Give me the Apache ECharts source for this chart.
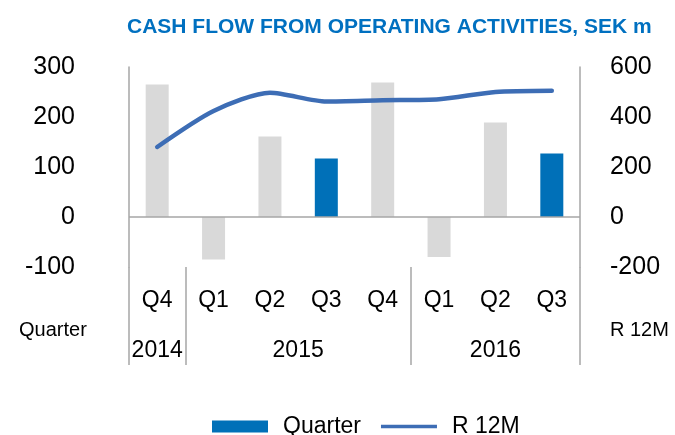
<!DOCTYPE html>
<html>
<head>
<meta charset="utf-8">
<script src="https://cdn.jsdelivr.net/npm/echarts@6/dist/echarts.min.js"></script>
<style>
  html, body { margin: 0; padding: 0; background: #fff; }
  #chart { width: 675px; height: 435px; }
</style>
</head>
<body>
<div id="chart"></div>
<script>
var quarters = ['Q4', 'Q1', 'Q2', 'Q3', 'Q4', 'Q1', 'Q2', 'Q3'];
var years = ['2014', '2015', '2016'];
var yearSpans = [1, 4, 3];
var quarterValues = [265, -85, 161, 117, 269, -80, 189, 127];
var r12mValues = [280, 424, 497, 462, 467, 471, 500, 505];
var leftTicks = [-100, 0, 100, 200, 300];
var rightTicks = [-200, 0, 200, 400, 600];

var font = 'Liberation Sans, Arial, sans-serif';
var gray = '#d9d9d9';
var blue = '#0070b8';
var axisGray = '#a6a6a6';

// year group boundaries and centres, in category units
var yearBounds = [0];
var yearCenters = [];
var pos = 0;
for (var i = 0; i < yearSpans.length; i++) {
    yearCenters.push(pos + yearSpans[i] / 2);
    pos += yearSpans[i];
    yearBounds.push(pos);
}

var barData = [];
for (var i = 0; i < quarterValues.length; i++) {
    barData.push({
        value: quarterValues[i],
        itemStyle: { color: quarters[i] == 'Q3' ? blue : gray }
    });
}

var chart = echarts.init(document.getElementById('chart'));

var option = {
    animation: false,
    textStyle: { fontFamily: font },
    title: {
        text: 'CASH FLOW FROM OPERATING ACTIVITIES, SEK m',
        left: 122,
        top: 12,
        textStyle: { color: '#0070c0', fontSize: 21, fontWeight: 'bold', fontFamily: font }
    },
    grid: { left: 129, right: 95, top: 67, bottom: 168, containLabel: false },
    legend: {
        left: 207,
        top: 410,
        itemWidth: 56,
        itemHeight: 12,
        itemGap: 20,
        textStyle: { fontSize: 23, color: '#000', fontFamily: font, padding: [0, 0, 0, 10] },
        data: [
            { name: 'Quarter', icon: 'rect' },
            { name: 'R 12M', icon: 'path://M0,0h60v4h-60z' }
        ]
    },
    xAxis: [
        {
            type: 'category',
            data: quarters,
            position: 'bottom',
            axisLine: { show: false, onZero: false },
            axisTick: { show: false },
            axisLabel: { margin: 22, fontSize: 23, color: '#000', fontFamily: font, interval: 0 }
        },
        {
            type: 'value',
            min: 0,
            max: quarters.length,
            position: 'bottom',
            splitLine: { show: false },
            axisLine: { show: false, onZero: false },
            axisTick: {
                show: true,
                customValues: yearBounds,
                length: 98,
                lineStyle: { color: axisGray, width: 1.5 }
            },
            axisLabel: {
                customValues: yearCenters,
                margin: 72,
                fontSize: 23,
                color: '#000',
                fontFamily: font,
                formatter: function (v) {
                    var k = yearCenters.indexOf(v);
                    return k >= 0 ? years[k] : '';
                }
            }
        }
    ],
    yAxis: [
        {
            type: 'value',
            min: leftTicks[0],
            max: leftTicks[leftTicks.length - 1],
            interval: 100,
            splitLine: { show: false },
            axisLine: { show: true, lineStyle: { color: axisGray, width: 1.5 } },
            axisTick: { show: false },
            axisLabel: { margin: 54, fontSize: 25, color: '#000', fontFamily: font }
        },
        {
            type: 'value',
            min: rightTicks[0],
            max: rightTicks[rightTicks.length - 1],
            interval: 200,
            position: 'right',
            splitLine: { show: false },
            axisLine: { show: true, lineStyle: { color: axisGray, width: 1.5 } },
            axisTick: { show: false },
            axisLabel: { margin: 30, fontSize: 25, color: '#000', fontFamily: font }
        }
    ],
    series: [
        {
            name: 'Quarter',
            type: 'bar',
            xAxisIndex: 0,
            yAxisIndex: 0,
            barWidth: 23,
            itemStyle: { color: blue },
            data: barData,
            markLine: {
                silent: true,
                symbol: 'none',
                label: { show: false },
                lineStyle: { color: axisGray, width: 1.5, type: 'solid' },
                data: [{ yAxis: 0 }]
            }
        },
        {
            name: 'R 12M',
            type: 'line',
            xAxisIndex: 0,
            yAxisIndex: 1,
            smooth: 0.25,
            showSymbol: false,
            symbol: 'none',
            color: '#3d6db5',
            lineStyle: { width: 4.5, color: '#3d6db5', cap: 'round' },
            data: r12mValues
        }
    ],
    graphic: [
        {
            type: 'text', left: 19, top: 320,
            style: { text: 'Quarter', fontSize: 20, fill: '#000', fontFamily: font }
        },
        {
            type: 'text', left: 610, top: 320,
            style: { text: 'R 12M', fontSize: 20, fill: '#000', fontFamily: font }
        }
    ]
};

chart.setOption(option);
</script>
</body>
</html>
